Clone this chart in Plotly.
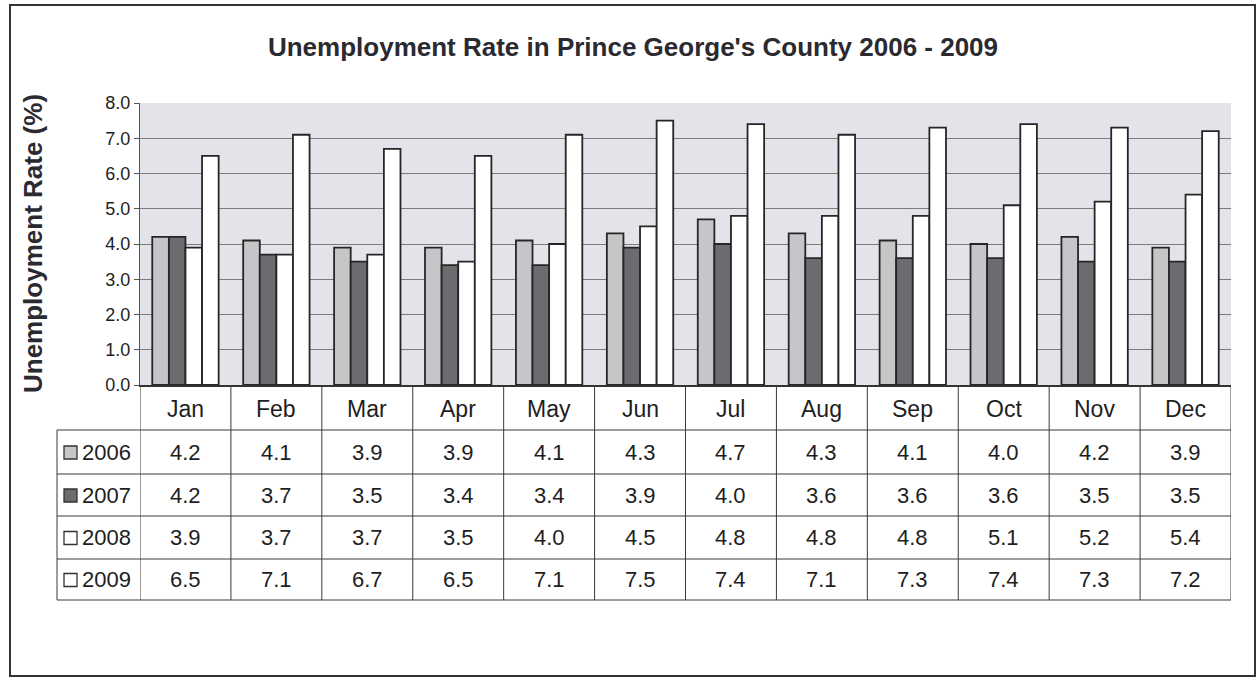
import plotly.graph_objects as go

months = ["Jan", "Feb", "Mar", "Apr", "May", "Jun", "Jul", "Aug", "Sep", "Oct", "Nov", "Dec"]
years = ["2006", "2007", "2008", "2009"]
rate_2006 = [4.2, 4.1, 3.9, 3.9, 4.1, 4.3, 4.7, 4.3, 4.1, 4.0, 4.2, 3.9]
rate_2007 = [4.2, 3.7, 3.5, 3.4, 3.4, 3.9, 4.0, 3.6, 3.6, 3.6, 3.5, 3.5]
rate_2008 = [3.9, 3.7, 3.7, 3.5, 4.0, 4.5, 4.8, 4.8, 4.8, 5.1, 5.2, 5.4]
rate_2009 = [6.5, 7.1, 6.7, 6.5, 7.1, 7.5, 7.4, 7.1, 7.3, 7.4, 7.3, 7.2]
series = [rate_2006, rate_2007, rate_2008, rate_2009]
colors = ["#c6c6c8", "#6c6c70", "#ffffff", "#ffffff"]

W, H = 1257, 678
PL, PR, PT, PB = 140, 1231, 103, 385  # plot area in px
pw, ph = PR - PL, PB - PT

def px_x(x):
    return (x - PL) / pw

def px_y(y):
    return (PB - y) / ph

FONT = "Arial, 'Liberation Sans', sans-serif"
LINE = "#3a3a3a"
TXT = "#1e1e1e"

fig = go.Figure()
for yr, vals, c in zip(years, series, colors):
    fig.add_trace(go.Bar(
        x=months, y=vals, name=yr,
        marker=dict(color=c, line=dict(color="#262626", width=1.8)),
    ))

shapes = []
annotations = []

# table geometry (px)
row_edges = [385, 430, 474, 516, 559, 600]
label_left = 57

for k in range(len(months) + 1):
    shapes.append(dict(type="line", xref="x", yref="paper",
                       x0=k - 0.5, x1=k - 0.5, y0=px_y(row_edges[0]), y1=px_y(row_edges[-1]),
                       line=dict(color=LINE, width=1)))
for yy in row_edges[1:]:
    shapes.append(dict(type="line", xref="paper", yref="paper",
                       x0=px_x(label_left), x1=1, y0=px_y(yy), y1=px_y(yy),
                       line=dict(color=LINE, width=1)))
shapes.append(dict(type="line", xref="paper", yref="paper",
                   x0=px_x(label_left), x1=px_x(label_left),
                   y0=px_y(row_edges[1]), y1=px_y(row_edges[-1]),
                   line=dict(color=LINE, width=1)))

for m in months:
    annotations.append(dict(xref="x", yref="paper", x=m,
                            y=px_y((row_edges[0] + row_edges[1]) / 2 + 1),
                            xanchor="center", yanchor="middle",
                            text=m, showarrow=False,
                            font=dict(family=FONT, size=23, color=TXT)))

for i, (yr, vals, c) in enumerate(zip(years, series, colors)):
    yc = (row_edges[i + 1] + row_edges[i + 2]) / 2
    for m, v in zip(months, vals):
        annotations.append(dict(xref="x", yref="paper", x=m, y=px_y(yc),
                                xanchor="center", yanchor="middle",
                                text=f"{v:.1f}", showarrow=False,
                                font=dict(family=FONT, size=22, color=TXT)))
    shapes.append(dict(type="rect", xref="paper", yref="paper",
                       x0=px_x(64), x1=px_x(77), y0=px_y(yc + 7), y1=px_y(yc - 6),
                       fillcolor=c, line=dict(color="#333", width=1.3)))
    annotations.append(dict(xref="paper", yref="paper", x=px_x(80), y=px_y(yc),
                            xanchor="left", yanchor="middle", text=yr, showarrow=False,
                            font=dict(family=FONT, size=22, color=TXT)))

annotations.append(dict(xref="paper", yref="paper", x=px_x(33), y=px_y(244),
                        xanchor="center", yanchor="middle",
                        text="<b>Unemployment Rate (%)</b>", textangle=-90,
                        showarrow=False, font=dict(family=FONT, size=26, color="#2a2a30")))

shapes.append(dict(type="rect", xref="paper", yref="paper",
                   x0=px_x(10), x1=px_x(1255), y0=px_y(676), y1=px_y(5),
                   line=dict(color="#333", width=2), layer="below"))

fig.update_layout(
    width=W, height=H,
    margin=dict(l=PL, r=W - PR, t=PT, b=H - PB, autoexpand=False),
    paper_bgcolor="white",
    plot_bgcolor="#e2e4e9",
    barmode="group", bargap=0.27, bargroupgap=0.0,
    showlegend=False,
    title=dict(text="<b>Unemployment Rate in Prince George's County 2006 - 2009</b>",
               x=633 / W, xanchor="center", y=1 - 47 / H, yanchor="middle",
               font=dict(family=FONT, size=26, color="#2a2a30")),
    xaxis=dict(showticklabels=False, ticks="", showline=True, linecolor="#333",
               linewidth=1.5, showgrid=False, range=[-0.5, 11.5], fixedrange=True),
    yaxis=dict(range=[0, 8], dtick=1, tickformat=".1f", ticks="outside", ticklen=5,
               tickcolor="#555", showline=True, linecolor="#555", linewidth=1,
               gridcolor="#7c7c7c", gridwidth=1, zeroline=False,
               tickfont=dict(family=FONT, size=18, color=TXT)),
    shapes=shapes,
    annotations=annotations,
)

fig.write_html("out.html")
